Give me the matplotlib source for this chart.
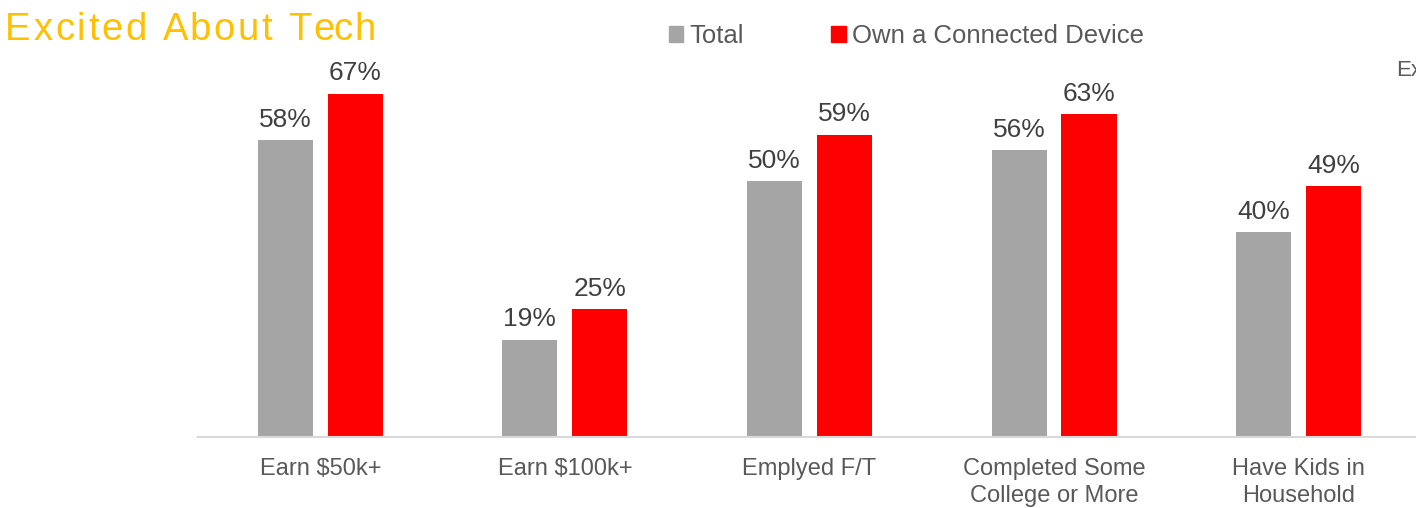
import matplotlib
matplotlib.use("Agg")
import matplotlib.pyplot as plt
from matplotlib.patches import Patch

categories = ["Earn $50k+", "Earn $100k+", "Emplyed F/T",
              "Completed Some\nCollege or More", "Have Kids in\nHousehold"]
total = [58, 19, 50, 56, 40]
connected = [67, 25, 59, 63, 49]
series_names = ["Total", "Own a Connected Device"]
title = "Excited About Tech"

GRAY = "#A5A5A5"
RED = "#FF0000"
plt.rcParams["font.family"] = ["Liberation Sans", "DejaVu Sans"]

W, H = 1416, 508
fig = plt.figure(figsize=(W / 100, H / 100), dpi=100)
ax = fig.add_axes([198 / W, 71 / H, 1218 / W, 377 / H])

x = list(range(len(categories)))
b1 = ax.bar([i - 0.143 for i in x], total, width=0.225, color=GRAY)
b2 = ax.bar([i + 0.143 for i in x], connected, width=0.225, color=RED)
ax.bar_label(b1, labels=[f"{v}%" for v in total], padding=6,
             fontsize=19, color="#404040")
ax.bar_label(b2, labels=[f"{v}%" for v in connected], padding=6,
             fontsize=19, color="#404040")

ax.set_xlim(-0.5, 4.48)
ax.set_ylim(0, 73.6)
ax.set_xticks(x)
ax.set_xticklabels(categories, fontsize=17, color="#595959", linespacing=1.32)
ax.tick_params(axis="x", length=0, pad=15)
ax.set_yticks([])
for s in ["top", "left", "right"]:
    ax.spines[s].set_visible(False)
ax.spines["bottom"].set_color("#D9D9D9")
ax.spines["bottom"].set_linewidth(1.5)

# letter-spaced title, drawn char by char
renderer = fig.canvas.get_renderer()
tsize = 27.5


def text_width(s):
    t = fig.text(0, 0, s + "|", fontsize=tsize)
    w = t.get_window_extent(renderer).width
    t.remove()
    return w


bar_w = text_width("")
full_t = fig.text(0, 0, title, fontsize=tsize)
natural = full_t.get_window_extent(renderer).width
full_t.remove()
start, end = 5, 376
spacing = (end - start - natural) / (len(title) - 1)
for i, ch in enumerate(title):
    if ch == " ":
        continue
    off = text_width(title[:i]) - bar_w
    fig.text((start + off + i * spacing) / W, 1 - 30 / H, ch, fontsize=tsize,
             color="#FFC000", ha="left", va="center")

fig.legend(handles=[Patch(color=GRAY), Patch(color=RED)], labels=series_names,
           loc="center left", bbox_to_anchor=(669 / W, 1 - 36 / H), ncol=2,
           frameon=False, fontsize=18.5, handlelength=0.55, handleheight=0.55,
           handletextpad=0.25, columnspacing=3.4, borderpad=0,
           borderaxespad=0, labelcolor="#595959")

fig.text(1396 / W, 1 - 71 / H, "Ex", fontsize=16, color="#595959", va="center")

fig.savefig("out.png", dpi=100)
